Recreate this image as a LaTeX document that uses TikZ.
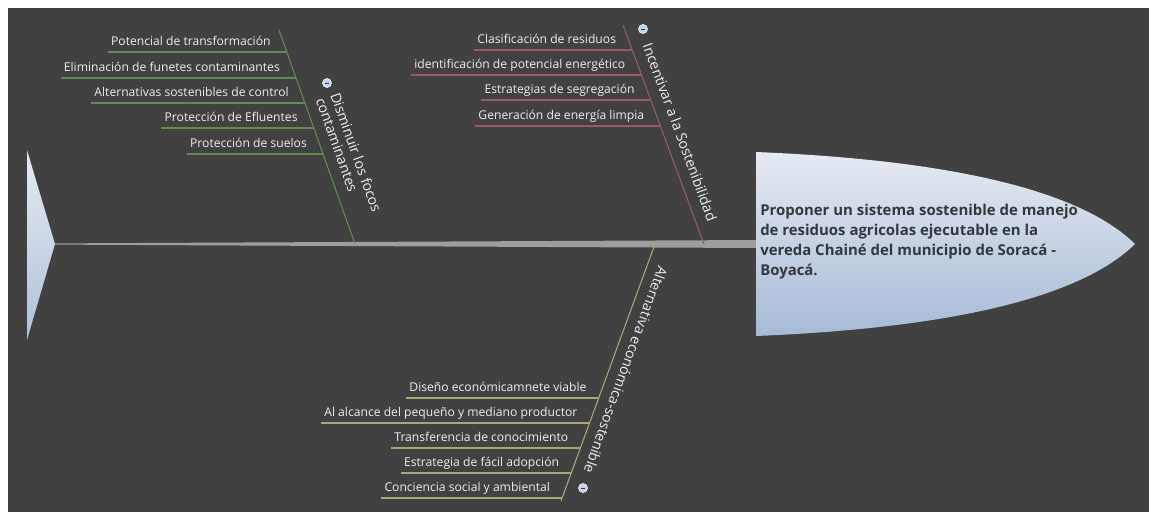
\documentclass[tikz,border=0pt]{standalone}
\usepackage{fontspec}
\setmainfont{Open Sans}
\usepackage{tikz}
\usetikzlibrary{calc,positioning}

\definecolor{boardGray}{RGB}{65,65,65}
\definecolor{itemText}{RGB}{238,238,238}
\definecolor{focosGreen}{RGB}{96,140,82}
\definecolor{sostRed}{RGB}{150,92,96}
\definecolor{ecoOlive}{RGB}{172,166,118}
\definecolor{spineGray}{RGB}{158,158,158}
\definecolor{headTop}{RGB}{230,234,242}
\definecolor{headBottom}{RGB}{166,186,214}
\definecolor{headText}{RGB}{52,56,62}
\definecolor{buttonBlue}{RGB}{196,208,236}

\begin{document}
\begin{tikzpicture}[x=0.75pt,y=-0.75pt,
	item/.style={text=itemText,font=\fontsize{9.1}{11}\selectfont,anchor=south east,inner xsep=2.25pt,inner ysep=0pt,text height=7pt,text depth=4.5pt},
	bone label/.style={text=itemText,font=\fontsize{10.6}{11.6}\selectfont,align=left,inner sep=0pt},
	collapse/.style={circle,draw=white,line width=0.4pt,fill=buttonBlue,minimum size=6.8pt,inner sep=0pt,
		path picture={\draw[headText,line width=0.6pt] ([xshift=-1.6pt]path picture bounding box.center) -- ([xshift=1.6pt]path picture bounding box.center);}}]
	\newcommand{\itemGap}{13}
	\newcommand{\spineY}{244}

	\useasboundingbox (0,0) rectangle (1149,512);
	\fill[white] (0,0) rectangle (1149,512);
	\fill[boardGray] (8,8) rectangle (1149,512);

	% tail and spine
	\coordinate (tail_tip) at (55,\spineY);
	\coordinate (spine_end) at (757,\spineY);
	\shade[top color=headTop,bottom color=headBottom!90!white] (27,150) -- (tail_tip) -- (27,340) -- cycle;
	\fill[spineGray] ($(tail_tip)+(0,-0.6)$) -- ($(spine_end)+(0,-4)$) -- ($(spine_end)+(0,4)$) -- ($(tail_tip)+(0,0.6)$) -- cycle;

	% head
	\shade[top color=headTop,bottom color=headBottom] (756,152) .. controls (950,160) and (1080,190) .. (1135,\spineY) .. controls (1080,298) and (950,328) .. (756,336) -- cycle;
	\node[text=headText,font=\bfseries\fontsize{11.2}{15}\selectfont,align=left,anchor=west,inner sep=0pt] (goal) at (760,242)
		{Proponer un sistema sostenible de manejo\\de residuos agricolas ejecutable en la\\vereda Chainé del municipio de Soracá -\\Boyacá.};

	% bone: Disminuir los focos contaminantes
	\coordinate (focos_top) at (279,30);
	\coordinate (focos_bottom) at (355,\spineY);
	\draw[focosGreen,line width=0.8pt] (focos_top) -- (focos_bottom);
	\coordinate (focos_a) at (intersection of focos_top--focos_bottom and 0,52--1,52);
	\coordinate (focos_b) at (intersection of focos_top--focos_bottom and 0,78--1,78);
	\coordinate (focos_c) at (intersection of focos_top--focos_bottom and 0,103--1,103);
	\coordinate (focos_d) at (intersection of focos_top--focos_bottom and 0,128--1,128);
	\coordinate (focos_e) at (intersection of focos_top--focos_bottom and 0,154--1,154);
	\node[item] (potencial) at ($(focos_a)+(-\itemGap,0)$) {Potencial de transformación};
	\node[item] (eliminacion) at ($(focos_b)+(-\itemGap,0)$) {Eliminación de funetes contaminantes};
	\node[item] (alternativas) at ($(focos_c)+(-\itemGap,0)$) {Alternativas sostenibles de control};
	\node[item] (efluentes) at ($(focos_d)+(-\itemGap,0)$) {Protección de Efluentes};
	\node[item] (suelos) at ($(focos_e)+(-\itemGap,0)$) {Protección de suelos};
	\draw[focosGreen,line width=0.9pt] (potencial.south west) -- (focos_a);
	\draw[focosGreen,line width=0.9pt] (eliminacion.south west) -- (focos_b);
	\draw[focosGreen,line width=0.9pt] (alternativas.south west) -- (focos_c);
	\draw[focosGreen,line width=0.9pt] (efluentes.south west) -- (focos_d);
	\draw[focosGreen,line width=0.9pt] (suelos.south west) -- (focos_e);
	\node[bone label,rotate=-70.4] (focos_label) at (349,155) {Disminuir los focos\\contaminantes};
	\node[collapse] (focos_btn) at (327,83) {};

	% bone: Incentivar a la Sostenibilidad
	\coordinate (sost_top) at (623,25);
	\coordinate (sost_bottom) at (704,\spineY);
	\draw[sostRed,line width=0.8pt] (sost_top) -- (sost_bottom);
	\coordinate (sost_a) at (intersection of sost_top--sost_bottom and 0,50--1,50);
	\coordinate (sost_b) at (intersection of sost_top--sost_bottom and 0,75--1,75);
	\coordinate (sost_c) at (intersection of sost_top--sost_bottom and 0,100--1,100);
	\coordinate (sost_d) at (intersection of sost_top--sost_bottom and 0,126--1,126);
	\node[item] (clasificacion) at ($(sost_a)+(-\itemGap,0)$) {Clasificación de residuos};
	\node[item] (identificacion) at ($(sost_b)+(-\itemGap,0)$) {identificación de potencial energético};
	\node[item] (segregacion) at ($(sost_c)+(-\itemGap,0)$) {Estrategias de segregación};
	\node[item] (energia) at ($(sost_d)+(-\itemGap,0)$) {Generación de energía limpia};
	\draw[sostRed,line width=0.9pt] (clasificacion.south west) -- (sost_a);
	\draw[sostRed,line width=0.9pt] (identificacion.south west) -- (sost_b);
	\draw[sostRed,line width=0.9pt] (segregacion.south west) -- (sost_c);
	\draw[sostRed,line width=0.9pt] (energia.south west) -- (sost_d);
	\node[bone label,rotate=-69.7] (sost_label) at (680,132) {Incentivar a la Sostenibilidad};
	\node[collapse] (sost_btn) at (643,29) {};

	% bone: Alternativa economica-sostenible
	\coordinate (eco_top) at (655,\spineY);
	\coordinate (eco_bottom) at (561,501);
	\draw[ecoOlive,line width=0.8pt] (eco_top) -- (eco_bottom);
	\coordinate (eco_a) at (intersection of eco_top--eco_bottom and 0,398--1,398);
	\coordinate (eco_b) at (intersection of eco_top--eco_bottom and 0,423--1,423);
	\coordinate (eco_c) at (intersection of eco_top--eco_bottom and 0,448--1,448);
	\coordinate (eco_d) at (intersection of eco_top--eco_bottom and 0,473--1,473);
	\coordinate (eco_e) at (intersection of eco_top--eco_bottom and 0,498--1,498);
	\node[item] (diseno) at ($(eco_a)+(-9,0)$) {Diseño económicamnete viable};
	\node[item] (alcance) at ($(eco_b)+(-9,0)$) {Al alcance del pequeño y mediano productor};
	\node[item] (transferencia) at ($(eco_c)+(-9,0)$) {Transferencia de conocimiento};
	\node[item] (adopcion) at ($(eco_d)+(-9,0)$) {Estrategia de fácil adopción};
	\node[item] (conciencia) at ($(eco_e)+(-9,0)$) {Conciencia social y ambiental};
	\draw[ecoOlive,line width=0.9pt] (diseno.south west) -- (eco_a);
	\draw[ecoOlive,line width=0.9pt] (alcance.south west) -- (eco_b);
	\draw[ecoOlive,line width=0.9pt] (transferencia.south west) -- (eco_c);
	\draw[ecoOlive,line width=0.9pt] (adopcion.south west) -- (eco_d);
	\draw[ecoOlive,line width=0.9pt] (conciencia.south west) -- (eco_e);
	\node[bone label,rotate=-110] (eco_label) at (626,370) {Alternativa económica-sostenible};
	\node[collapse] (eco_btn) at (583,488) {};
\end{tikzpicture}
\end{document}
